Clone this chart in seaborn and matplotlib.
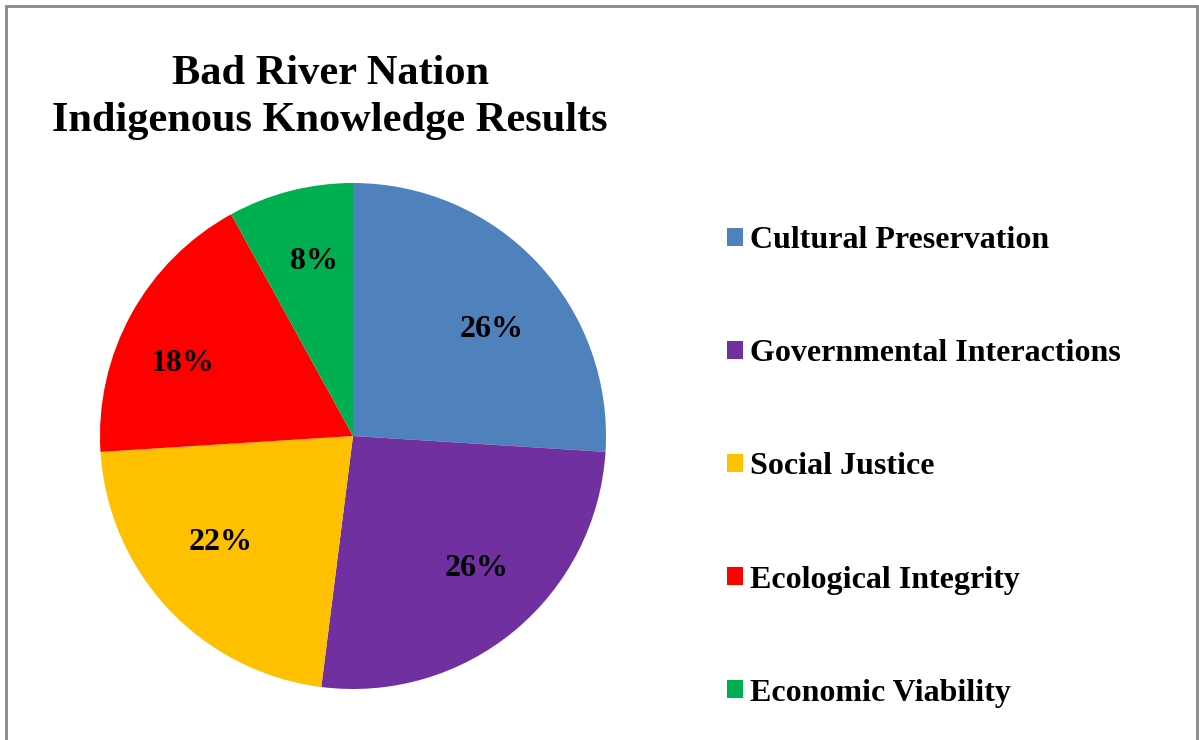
import seaborn as sns
import matplotlib.pyplot as plt
from matplotlib.patches import Rectangle

# данные
categories = ['Cultural Preservation', 'Governmental Interactions', 'Social Justice',
              'Ecological Integrity', 'Economic Viability']
shares = [26, 26, 22, 18, 8]
colors = ['#4F81BD', '#7030A0', '#FFC000', '#FF0000', '#00B050']

sns.set_theme(style='white')
plt.rcParams['font.family'] = ['Liberation Serif', 'DejaVu Serif']
plt.rcParams['font.weight'] = 'bold'
plt.rcParams['text.color'] = 'black'

fig = plt.figure(figsize=(11.99, 7.40), dpi=100)
fig.patch.set_facecolor('white')

# pie: centre (353, 436) px, radius 253 px
ax = fig.add_axes([100 / 1199, 51 / 740, 506 / 1199, 506 / 740])
wedges, texts, autotexts = ax.pie(
    shares, colors=colors, startangle=90, counterclock=False,
    autopct=lambda p: f'{p:.0f}%', pctdistance=0.70,
    wedgeprops=dict(linewidth=0),
    textprops=dict(fontsize=23, fontweight='bold', color='black'))
ax.set_xlim(-1, 1)
ax.set_ylim(-1, 1)
ax.set_aspect('equal')

# небольшие сдвиги подписей (в пикселях), как в Excel
nudges = [(10, 15), (11, -4), (-3, -15), (-15, 13), (5, -3)]
for t, (dx, dy) in zip(autotexts, nudges):
    x, y = t.get_position()
    t.set_position((x + dx / 253, y - dy / 253))

# заголовок
fig.text(330 / 1199, 1 - 55 / 740, 'Bad River Nation\nIndigenous Knowledge Results',
         ha='center', va='top', fontsize=30.5, fontweight='bold', linespacing=1.3,
         color='black')

# легенда
fig.legend(wedges, categories, loc='center left',
           bbox_to_anchor=(727 / 1199, 1 - 467 / 740),
           frameon=False, prop=dict(weight='bold', size=23),
           handlelength=0.5, handleheight=0.5, handletextpad=0.22,
           labelspacing=2.63, borderpad=0, borderaxespad=0, labelcolor='black')

# серая рамка
fig.add_artist(Rectangle((6 / 1199, -0.05), (1197 - 6) / 1199, 1.05 - 6 / 740,
                         transform=fig.transFigure, fill=False,
                         edgecolor='#888888', linewidth=2, clip_on=False))

fig.savefig('out.png', dpi=100)
